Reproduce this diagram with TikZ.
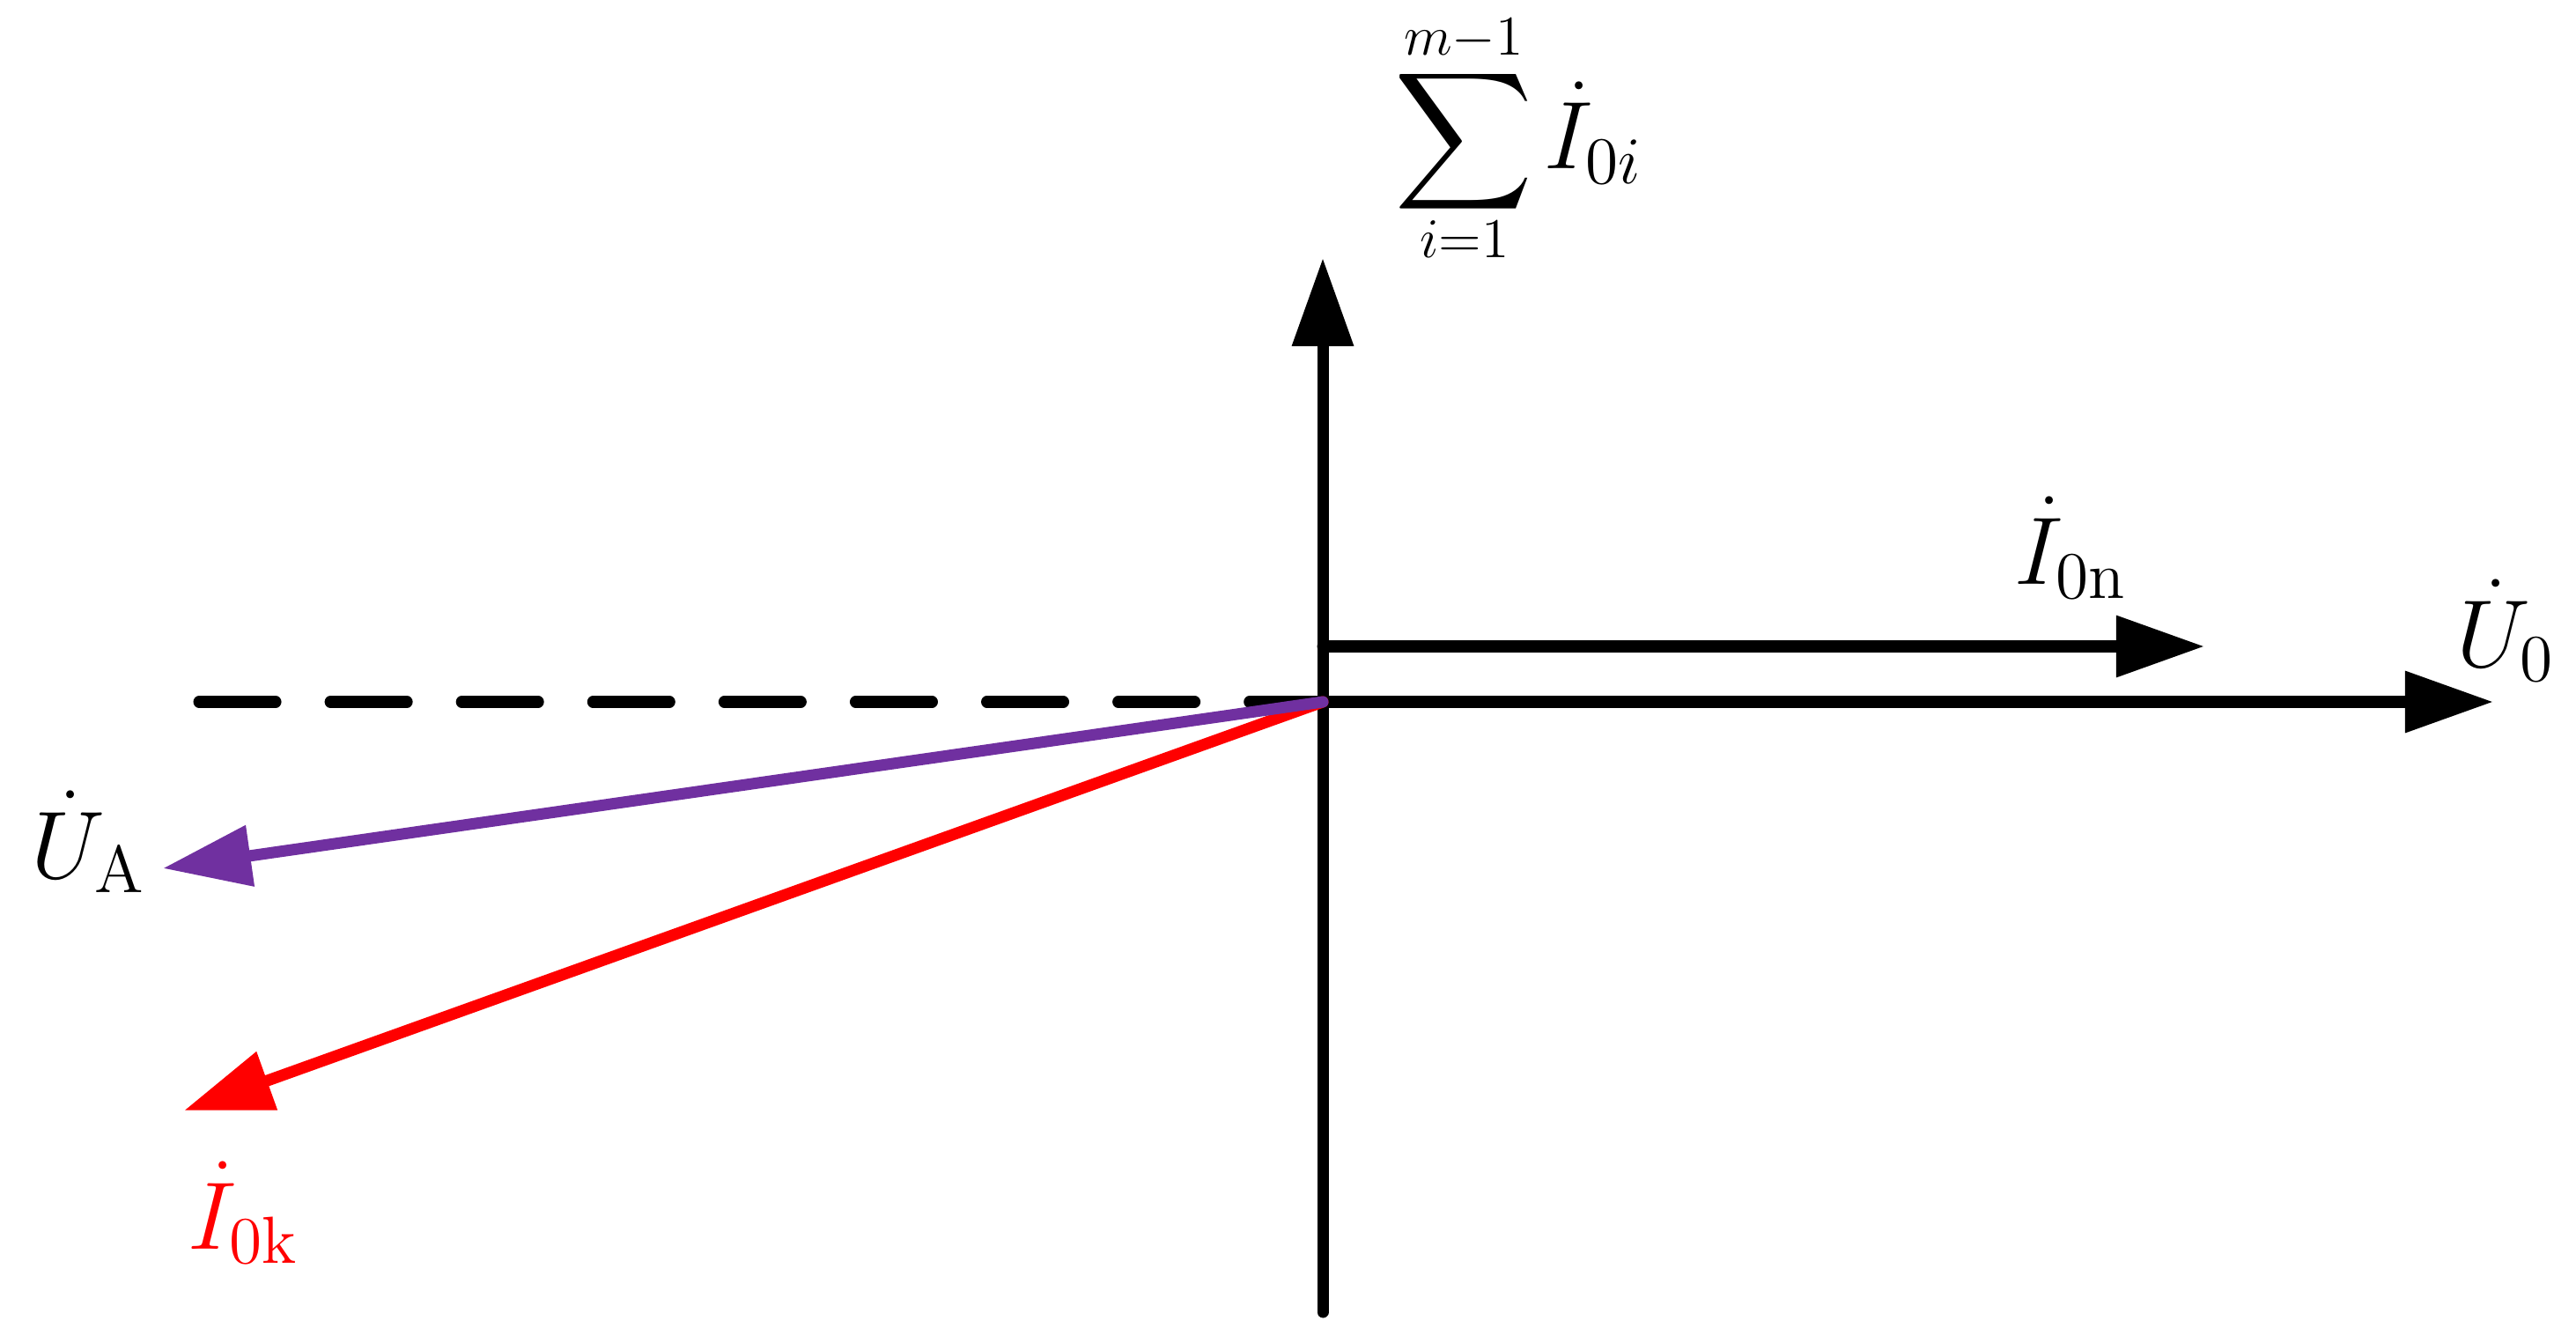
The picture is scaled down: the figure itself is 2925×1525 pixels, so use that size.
\documentclass[tikz,border=0pt]{standalone}
\usepackage{exscale}
\usetikzlibrary{arrows.meta}
\definecolor{vpurple}{HTML}{7030A0}
\definecolor{vred}{HTML}{FF0000}
\begin{document}
\begin{tikzpicture}[x=0.01cm,y=-0.01cm,
  vec/.style={line width=0.13cm, line cap=round, -{Triangle[length=1cm,width=0.67cm]}},
  dashline/.style={line width=0.13cm, line cap=round, dash pattern=on 0.87cm off 0.62cm},
  lbl/.style={inner sep=0pt, anchor=base west, font=\huge, scale=1.495},
  limlbl/.style={inner sep=0pt, anchor=base, font=\huge, scale=1.26}]
\useasboundingbox (0,0) rectangle (2925,1525);
% coordinates
\coordinate (O) at (1502,797);
\coordinate (Ybot) at (1502,1490);
\coordinate (Ytop) at (1502,293);
\coordinate (Xtip) at (2831,797);
\coordinate (Nstart) at (1502,734);
\coordinate (Ntip) at (2503,734);
\coordinate (Dstart) at (226,797);
\coordinate (Atip) at (185,986);
\coordinate (Ktip) at (209,1261);
% axes
\draw[vec] (Ybot) -- (Ytop);
\draw[vec] (O) -- (Xtip);
\draw[vec] (Nstart) -- (Ntip);
\draw[dashline] (Dstart) -- (O);
% phasors
\draw[vec, vred] (O) -- (Ktip);
\draw[vec, vpurple] (O) -- (Atip);
% labels
\node[lbl] (lU0) at (2788,757) {$\dot{U}_{0}$};
\node[lbl] (lI0n) at (2286,663) {$\dot{I}_{\mathrm{0n}}$};
\node[lbl] (lUA) at (34,997) {$\dot{U}_{\mathrm{A}}$};
\node[lbl, text=vred] (lI0k) at (212,1418) {$\dot{I}_{\mathrm{0k}}$};
% sum label
\node[lbl, anchor=center] (lsig) at (1662,161) {$\displaystyle\sum$};
\node[limlbl] (lup) at (1662,63) {$\scriptstyle m-1$};
\node[limlbl] (llow) at (1663,293) {$\scriptstyle i=1$};
\node[lbl] (lI0i) at (1752,192) {$\dot{I}_{0i}$};
\end{tikzpicture}
\end{document}
